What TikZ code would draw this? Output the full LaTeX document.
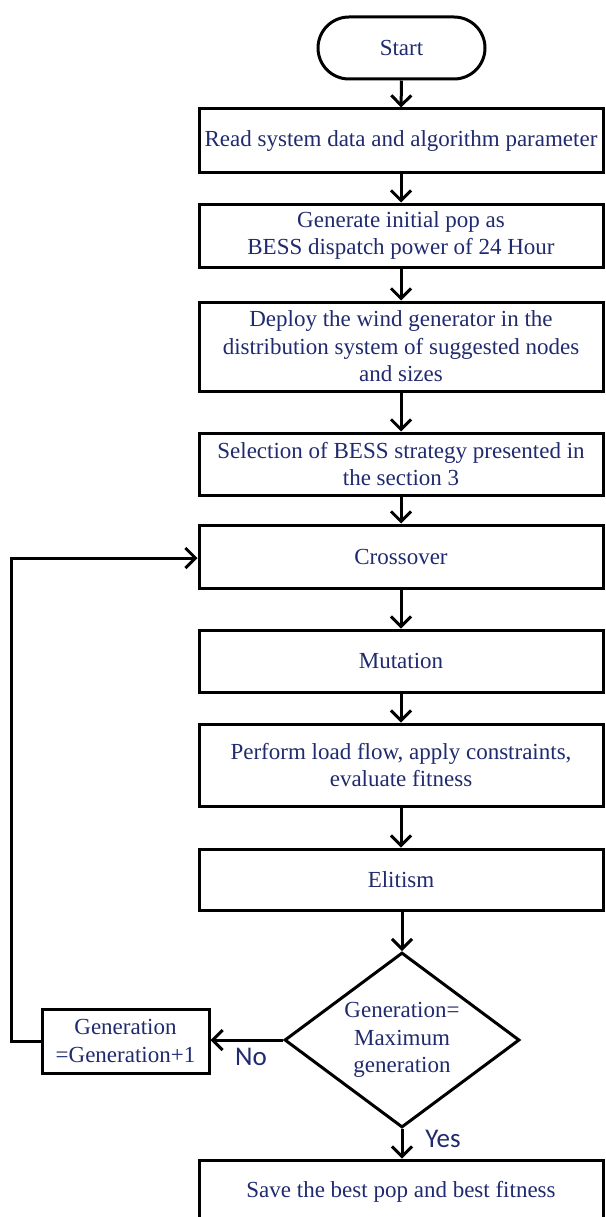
\documentclass[tikz,border=0pt]{standalone}
\usepackage{fontspec}
\setmainfont{Liberation Serif}
\newfontfamily\labfont{Carlito}
\usetikzlibrary{arrows.meta,shapes.geometric,shapes.misc}
\definecolor{txt}{RGB}{32,42,110}
\tikzset{
  box/.style={draw=black, line width=3pt, rectangle, minimum width=404pt, align=center, text=txt, font=\fontsize{23}{27.5}\selectfont, inner sep=0pt},
  term/.style={draw=black, line width=3pt, rounded rectangle, minimum width=167pt, minimum height=62pt, text=txt, font=\fontsize{23}{27.5}\selectfont, inner sep=0pt},
  dec/.style={draw=black, line width=3pt, diamond, minimum width=235pt, minimum height=175pt, align=center, text=txt, font=\fontsize{23}{27.5}\selectfont, inner sep=0pt, aspect=1.34},
  flow/.style={line width=3pt, -{Straight Barb[length=10pt,width=20pt,line width=3pt]}},
  lab/.style={text=txt, font=\labfont\fontsize{27}{30}\selectfont, inner sep=0pt}
}
\begin{document}
\begin{tikzpicture}[x=1pt,y=-1pt]
\useasboundingbox (0,0) rectangle (605,1217);
\clip (0,0) rectangle (605,1217);
\node[term] (start) at (401.5,48) {Start};
\node[box, minimum height=64pt] (read) at (401,141) {Read system data and algorithm parameter};
\node[box, minimum height=63pt] (gen) at (401,235.5) {Generate initial pop as\\BESS dispatch power of 24 Hour};
\node[box, minimum height=89pt] (dep) at (401,346.5) {Deploy the wind generator in the\\distribution system of suggested nodes\\and sizes};
\node[box, minimum height=62pt] (sel) at (401,464) {Selection of BESS strategy presented in\\the section 3};
\node[box, minimum height=63pt] (cross) at (401,556.5) {Crossover};
\node[box, minimum height=62pt] (mut) at (401,661) {Mutation};
\node[box, minimum height=82pt] (perf) at (401,765) {Perform load flow, apply constraints,\\evaluate fitness};
\node[box, minimum height=61pt] (elit) at (401,879.5) {Elitism};
\node[dec] (dia) at (402,1040) {Generation=\\Maximum\\generation};
\node[box, minimum width=167pt, minimum height=64pt] (inc) at (125.5,1041) {Generation\\=Generation+1};
\node[box, minimum height=64pt] (save) at (401,1192) {Save the best pop and best fitness};
\coordinate (lt) at (11,1041);
\coordinate (lb) at (11,558);
\draw[flow] (start) -- (read);
\draw[flow] (read) -- (gen);
\draw[flow] (gen) -- (dep);
\draw[flow] (dep) -- (sel);
\draw[flow] (sel) -- (cross);
\draw[flow] (cross) -- (mut);
\draw[flow] (mut) -- (perf);
\draw[flow] (perf) -- (elit);
\draw[flow] (elit.south -| dia.north) -- (dia.north);
\draw[flow] (dia.west) -- (inc.east |- dia.west);
\draw[flow] (dia.south) -- (save.north -| dia.south);
\draw[flow] (inc.west |- lt) -- (lt) -- (lb) -- (cross.west |- lb);
\node[lab] (no) at (251,1057) {No};
\node[lab] (yes) at (443,1139) {Yes};
\end{tikzpicture}
\end{document}
